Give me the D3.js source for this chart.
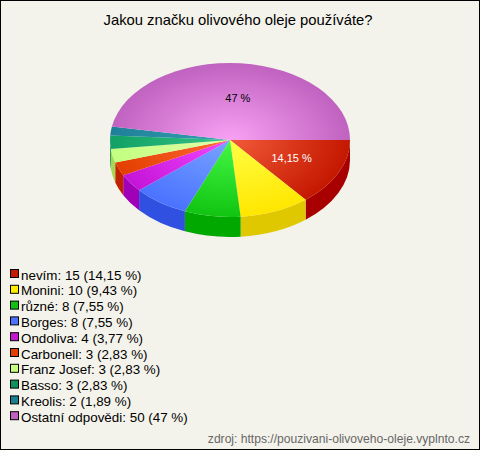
<!DOCTYPE html>
<html><head><meta charset="utf-8">
<script src="https://cdn.jsdelivr.net/npm/d3@7"></script>
<style>html,body{margin:0;padding:0;background:#f4f3eb;}svg{display:block;}</style>
</head><body>
<script>
const labels = ["nevím","Monini","různé","Borges","Ondoliva","Carbonell","Franz Josef","Basso","Kreolis","Ostatní odpovědi"];
const values = [15,10,8,8,4,3,3,3,2,50];
const pctLabels = ["14,15 %","9,43 %","7,55 %","7,55 %","3,77 %","2,83 %","2,83 %","2,83 %","1,89 %","47 %"];
const topInner = ["#f25a38","#ffff45","#45f845","#78a4ff","#f248ff","#ff6a34","#e4ffa8","#34c488","#34a2b4","#f8a2f4"];
const topOuter = ["#c41800","#ffe600","#12c412","#4a72ff","#c414d8","#e23e00","#c2ff80","#12a064","#1f7f98","#c062c0"];
const sideCols = ["#a80000","#e0c800","#00a800","#2f50e0","#a000b8","#c22000","#a4d850","#108850","#107080","#a050a0"];
const legendCols = ["#c41800","#ffee00","#12c012","#4a72ff","#c418d0","#e24000","#c8ff80","#109060","#1a8090","#c062c0"];
const title = "Jakou značku olivového oleje používáte?";
const source = "zdroj: https://pouzivani-olivoveho-oleje.vyplnto.cz";

const W = 480, H = 450;
const cx = 230, cy = 140, rx = 120, ry = 77, depth = 20;

const svg = d3.select("body").append("svg").attr("width", W).attr("height", H)
  .style("font-family", "Liberation Sans, Arial, sans-serif");
svg.append("rect").attr("x",0.5).attr("y",0.5).attr("width",W-1).attr("height",H-1)
  .attr("fill","#f4f3eb").attr("stroke","#000");

svg.append("text").attr("x", 238).attr("y", 25).attr("text-anchor","middle")
  .attr("font-size", 14.8).attr("fill","#000").text(title);

const defs = svg.append("defs");
topInner.forEach((c,i)=>{
  const g = defs.append("radialGradient").attr("id","g"+i)
    .attr("gradientUnits","userSpaceOnUse").attr("cx",cx).attr("cy",cy).attr("r",rx)
    .attr("fx",cx).attr("fy",cy)
    .attr("gradientTransform",`translate(${cx},${cy}) scale(1,${ry/rx}) translate(${-cx},${-cy})`);
  g.append("stop").attr("offset","0").attr("stop-color",c);
  g.append("stop").attr("offset","1").attr("stop-color",topOuter[i]);
});

const pie = d3.pie().sort(null).value(d=>d).startAngle(Math.PI/2).endAngle(Math.PI/2 + 2*Math.PI);
const arcs = pie(values);
const P = (t, dy=0) => [cx + rx*Math.cos(t), cy + ry*Math.sin(t) + dy];

// sides
const sides = svg.append("g");
arcs.forEach((a,i)=>{
  let t0 = a.startAngle - Math.PI/2, t1 = a.endAngle - Math.PI/2;
  const s = Math.max(t0, 0), e = Math.min(t1, Math.PI);
  if (e <= s) return;
  const p0 = P(s), p1 = P(e), q1 = P(e, depth), q0 = P(s, depth);
  const d = `M${p0}A${rx},${ry} 0 0 1 ${p1}L${q1}A${rx},${ry} 0 0 0 ${q0}Z`;
  sides.append("path").attr("d", d).attr("fill", sideCols[i]);
});

// tops
const tops = svg.append("g");
arcs.forEach((a,i)=>{
  const t0 = a.startAngle - Math.PI/2, t1 = a.endAngle - Math.PI/2;
  const large = (t1 - t0) > Math.PI ? 1 : 0;
  const d = `M${cx},${cy}L${P(t0)}A${rx},${ry} 0 ${large} 1 ${P(t1)}Z`;
  tops.append("path").attr("d", d).attr("fill", `url(#g${i})`);
});

// labels on large slices
arcs.forEach((a,i)=>{
  const frac = values[i]/d3.sum(values);
  if (frac < 0.1) return;
  const tm = (a.startAngle + a.endAngle)/2 - Math.PI/2;
  const [x,y] = [cx + rx*0.55*Math.cos(tm), cy + ry*0.55*Math.sin(tm)];
  svg.append("text").attr("x", x + 2).attr("y", y+4).attr("text-anchor","middle")
    .attr("font-size", 11).attr("fill", i===0 ? "#fff" : "#000").text(pctLabels[i]);
});

// legend
const lg = svg.append("g");
labels.forEach((l,i)=>{
  const y = 269.5 + i*15.8;
  lg.append("rect").attr("x",10.5).attr("y",y).attr("width",8).attr("height",8)
    .attr("fill",legendCols[i]).attr("stroke","#000");
  lg.append("text").attr("x",21).attr("y",y+10).attr("font-size",13.4).attr("fill","#000")
    .text(`${l}: ${values[i]} (${pctLabels[i]})`);
});

svg.append("text").attr("x",470).attr("y",443).attr("text-anchor","end")
  .attr("font-size",12.1).attr("fill","#666").text(source);
</script>
</body></html>
